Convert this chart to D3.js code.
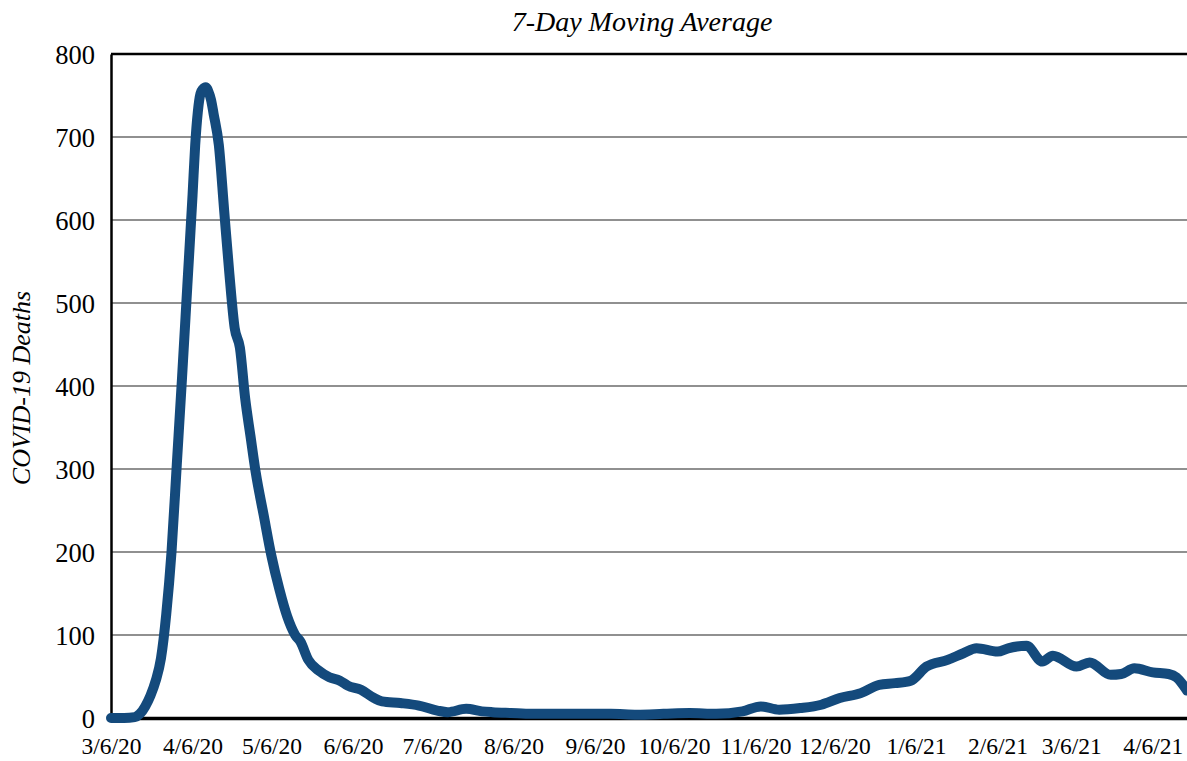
<!DOCTYPE html>
<html lang="en">
<head>
    <meta charset="UTF-8"/>
    <title>7-Day Moving Average</title>
    <script src="https://d3js.org/d3.v7.min.js"></script>
    <style>
        body { margin: 0; background: #fff; }
        text { font-family: "Liberation Serif", "Times New Roman", serif; fill: #000; }
    </style>
</head>
<body>
<script>

    var w = 1187;
    var h = 761;

    // chart area edges
    var plotLeft = 111, plotTop = 54, plotBottom = 718, plotRight = 1187;

    // dates and 7-day average deaths
    var dates = [
        "2020-03-06","2020-03-11","2020-03-15","2020-03-17","2020-03-19","2020-03-21","2020-03-23",
        "2020-03-25","2020-03-27","2020-03-29","2020-03-31","2020-04-02","2020-04-04","2020-04-06",
        "2020-04-07","2020-04-08","2020-04-09","2020-04-10","2020-04-11","2020-04-12","2020-04-13",
        "2020-04-14","2020-04-16","2020-04-18","2020-04-20","2020-04-22","2020-04-24","2020-04-26",
        "2020-04-28","2020-04-30","2020-05-03","2020-05-06","2020-05-09","2020-05-12","2020-05-15",
        "2020-05-17","2020-05-20","2020-05-24","2020-05-28","2020-06-01","2020-06-04","2020-06-09",
        "2020-06-14","2020-06-17","2020-06-24","2020-07-01","2020-07-08","2020-07-12","2020-07-19",
        "2020-07-25","2020-07-29","2020-08-05","2020-08-13","2020-08-23","2020-09-02","2020-09-12",
        "2020-09-22","2020-10-02","2020-10-12","2020-10-22","2020-11-01","2020-11-08","2020-11-15",
        "2020-11-23","2020-12-01","2020-12-08","2020-12-16","2020-12-23","2020-12-29","2021-01-04",
        "2021-01-10","2021-01-18","2021-01-24","2021-01-29","2021-02-06","2021-02-10","2021-02-17",
        "2021-02-23","2021-02-27","2021-03-08","2021-03-13","2021-03-21","2021-03-25","2021-03-30",
        "2021-04-06","2021-04-12","2021-04-15","2021-04-19"
    ];
    var deaths = [
        0, 0, 1, 5, 14, 27, 45,
        72, 125, 200, 305, 410, 520, 630,
        690, 730, 752, 758, 760, 755, 745,
        728, 690, 612, 535, 470, 446, 385,
        340, 296, 245, 195, 155, 122, 100,
        92, 70, 57, 49, 45, 39, 34,
        24, 20, 18, 15, 9, 7, 11,
        8, 7, 6, 5, 5, 5, 5,
        4, 5, 6, 5, 8, 14, 10,
        12, 16, 24, 30, 40, 42, 45,
        62, 70, 78, 84, 80, 84, 87,
        68, 75, 62, 67, 52, 53, 60,
        55, 53, 49, 33
    ];

    var yTicks = [0, 100, 200, 300, 400, 500, 600, 700, 800];
    var xTickLabels = ["3/6/20","4/6/20","5/6/20","6/6/20","7/6/20","8/6/20","9/6/20",
                       "10/6/20","11/6/20","12/6/20","1/6/21","2/6/21","3/6/21","4/6/21"];

    var parse = d3.timeParse("%Y-%m-%d");
    var parseTick = d3.timeParse("%m/%d/%y");

    var data = dates.map(function(d, i){ return { date: parse(d), v: deaths[i] }; });

    var xScale = d3.scaleTime()
                    .domain([parse("2020-03-06"), parse("2021-04-19")])
                    .range([plotLeft, plotRight]);

    var yScale = d3.scaleLinear()
                    .domain([0, 800])
                    .range([plotBottom, plotTop]);

    var svg = d3.select("body")
                .append("svg")
                .attr("width", w)
                .attr("height", h);

    // gridlines
    svg.append("g")
        .selectAll("line")
        .data(yTicks.slice(1, -1))
        .enter()
        .append("line")
        .attr("x1", plotLeft)
        .attr("x2", plotRight)
        .attr("y1", function(d){ return yScale(d); })
        .attr("y2", function(d){ return yScale(d); })
        .attr("stroke", "#222")
        .attr("stroke-width", 1.2);

    // top border
    svg.append("line")
        .attr("x1", plotLeft).attr("x2", plotRight)
        .attr("y1", yScale(800)).attr("y2", yScale(800))
        .attr("stroke", "#000").attr("stroke-width", 2.5);

    // y axis
    var yAxis = d3.axisLeft(yScale).tickValues(yTicks).tickSize(0).tickPadding(16);
    var gy = svg.append("g").attr("transform", "translate(" + plotLeft + ",0)").call(yAxis);
    gy.select(".domain").attr("stroke", "#000").attr("stroke-width", 2.5);
    gy.selectAll("text")
        .style("font-family", "'Liberation Serif', serif")
        .style("font-size", "26.5px")
        .attr("dy", "0.35em");

    // x axis
    var xAxis = d3.axisBottom(xScale)
                    .tickValues(xTickLabels.map(function(s){ return parseTick(s); }))
                    .tickFormat(function(d, i){ return xTickLabels[i]; })
                    .tickSize(0)
                    .tickPadding(19);
    var gx = svg.append("g").attr("transform", "translate(0," + plotBottom + ")").call(xAxis);
    gx.select(".domain").attr("stroke", "#000").attr("stroke-width", 3.5);
    gx.selectAll("text")
        .style("font-family", "'Liberation Serif', serif")
        .style("font-size", "23.5px");

    // the line
    var line = d3.line()
                .x(function(d){ return xScale(d.date); })
                .y(function(d){ return yScale(d.v); })
                .curve(d3.curveMonotoneX);

    svg.append("path")
        .datum(data)
        .attr("d", line)
        .attr("fill", "none")
        .attr("stroke", "#144a7c")
        .attr("stroke-width", 10)
        .attr("stroke-linecap", "round")
        .attr("stroke-linejoin", "round");

    // title
    svg.append("text")
        .attr("x", 642)
        .attr("y", 31)
        .attr("text-anchor", "middle")
        .style("font-size", "28px")
        .style("font-style", "italic")
        .text("7-Day Moving Average");

    // y label
    svg.append("text")
        .attr("transform", "translate(30," + 388 + ") rotate(-90)")
        .attr("text-anchor", "middle")
        .style("font-size", "26px")
        .style("font-style", "italic")
        .text("COVID-19 Deaths");

</script>
</body>
</html>
